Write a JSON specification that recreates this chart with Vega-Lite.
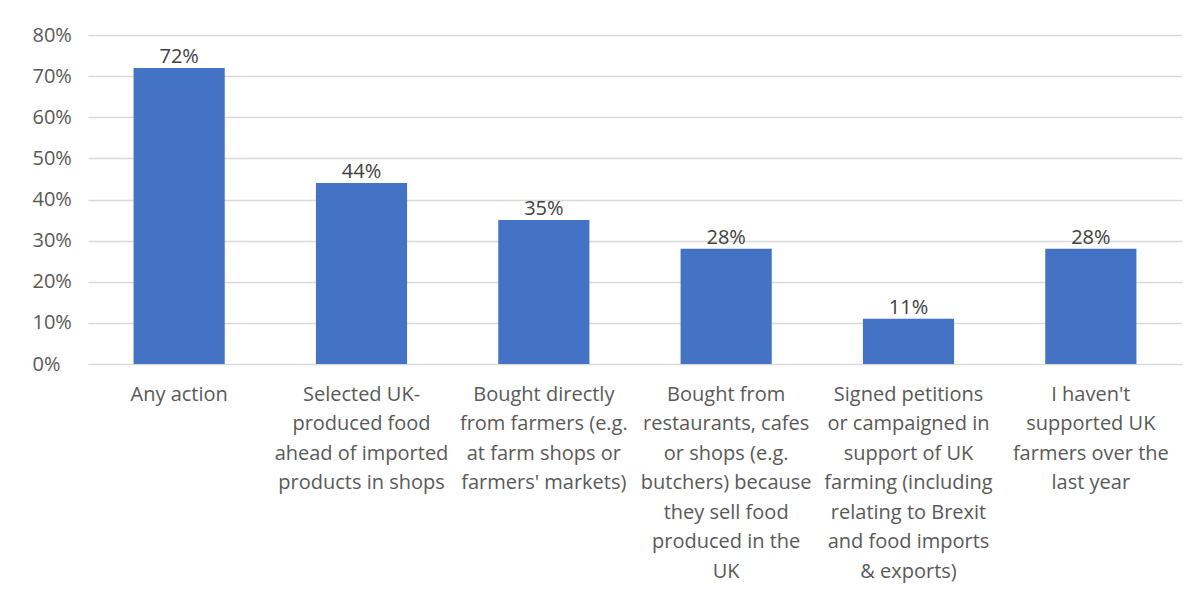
{
  "$schema": "https://vega.github.io/schema/vega-lite/v6.json",
  "autosize": "none",
  "width": 1094,
  "height": 329,
  "padding": {"left": 88, "top": 35, "right": 19, "bottom": 240},
  "background": "white",
  "config": {
    "font": "Open Sans",
    "view": {"stroke": null}
  },
  "data": {
    "values": [
      {"action": "Any action", "share": 0.72},
      {"action": "Selected UK-\nproduced food\nahead of imported\nproducts in shops", "share": 0.44},
      {"action": "Bought directly\nfrom farmers (e.g.\nat farm shops or\nfarmers' markets)", "share": 0.35},
      {"action": "Bought from\nrestaurants, cafes\nor shops (e.g.\nbutchers) because\nthey sell food\nproduced in the\nUK", "share": 0.28},
      {"action": "Signed petitions\nor campaigned in\nsupport of UK\nfarming (including\nrelating to Brexit\nand food imports\n& exports)", "share": 0.11},
      {"action": "I haven't\nsupported UK\nfarmers over the\nlast year", "share": 0.28}
    ]
  },
  "encoding": {
    "x": {
      "field": "action",
      "type": "nominal",
      "sort": null,
      "scale": {"paddingInner": 0.5, "paddingOuter": 0.25},
      "axis": {
        "title": null,
        "labelAngle": 0,
        "labelExpr": "split(datum.label, '\\n')",
        "labelFontSize": 20,
        "labelColor": "#595959",
        "labelLineHeight": 29.5,
        "labelPadding": 20,
        "labelBaseline": "top",
        "labelLimit": 0,
        "ticks": false,
        "domain": true,
        "domainColor": "#D9D9D9",
        "grid": false
      }
    },
    "y": {
      "field": "share",
      "type": "quantitative",
      "scale": {"domain": [0, 0.8], "nice": false},
      "axis": {
        "title": null,
        "format": ".0%",
        "values": [0, 0.1, 0.2, 0.3, 0.4, 0.5, 0.6, 0.7, 0.8],
        "labelFontSize": 20,
        "labelColor": "#595959",
        "labelAlign": "left",
        "labelPadding": 56,
        "ticks": false,
        "domain": false,
        "gridColor": "#D9D9D9",
        "gridWidth": 1.3
      }
    }
  },
  "layer": [
    {"mark": {"type": "bar", "color": "#4472C4"}},
    {
      "mark": {"type": "text", "baseline": "bottom", "dy": -1, "fontSize": 20, "color": "#404040"},
      "encoding": {"text": {"field": "share", "type": "quantitative", "format": ".0%"}}
    }
  ]
}
